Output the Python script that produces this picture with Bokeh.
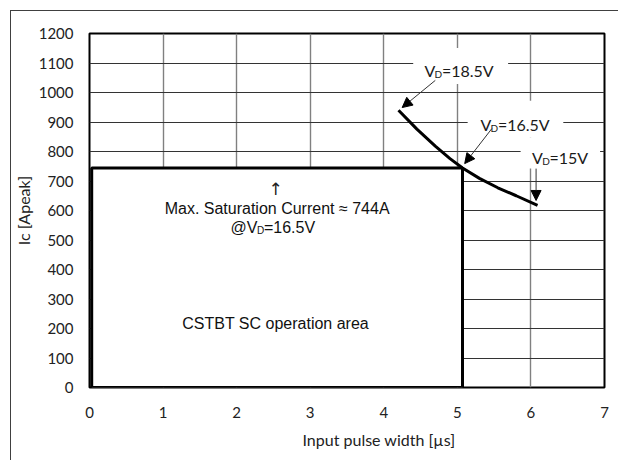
import math
from bokeh.plotting import figure
from bokeh.models import (Label, Arrow, NormalHead, FixedTicker, Title,
                          InlineStyleSheet)
from bokeh.embed import file_html
from bokeh.resources import INLINE

# ---- data ----
pulse_width = [4.20, 4.45, 4.70, 4.90, 5.07, 5.30, 5.55, 5.80, 6.09]
ic_peak = [940, 876, 818, 776, 744, 709, 677, 650, 617]
soa_width = 5.07
sat_current = 744
x_ticks = [0, 1, 2, 3, 4, 5, 6, 7]
y_ticks = [0, 100, 200, 300, 400, 500, 600, 700, 800, 900, 1000, 1100, 1200]
vd_labels = ["18.5V", "16.5V", "15V"]

TICK_FONT = "Lato"
ANN_FONT = "Liberation Sans"

p = figure(frame_width=515, frame_height=354, x_range=(0, 7), y_range=(0, 1200),
           output_backend="svg", toolbar_location=None,
           min_border_left=89, min_border_right=14, min_border_top=33,
           min_border_bottom=73)
p.outline_line_color = "black"
p.outline_line_width = 2
p.background_fill_color = "white"
p.border_fill_color = "white"

# outer thin border (left and top edges visible; the rest runs off the page)
p.stylesheets = [InlineStyleSheet(css="""
:host { position: relative; }
:host::after {
  content: ""; position: absolute; left: 10px; top: 10px; right: 0; bottom: 0;
  border-left: 1px solid #404040; border-top: 1px solid #404040;
  pointer-events: none;
}
""")]

for ax in (p.xaxis, p.yaxis):
    ax.axis_line_color = None
    ax.major_tick_line_color = None
    ax.minor_tick_line_color = None
    ax.major_label_text_font = TICK_FONT
    ax.major_label_text_font_size = "15px"
    ax.major_label_text_color = "#222222"
p.xaxis.ticker = FixedTicker(ticks=x_ticks)
p.yaxis.ticker = FixedTicker(ticks=y_ticks)
p.xaxis.major_label_standoff = 13
p.yaxis.major_tick_out = 0
p.yaxis.minor_tick_out = 0
p.yaxis.major_label_standoff = 16

p.yaxis.axis_label = "Ic [Apeak]"
p.yaxis.axis_label_text_font = TICK_FONT
p.yaxis.axis_label_text_font_size = "16px"
p.yaxis.axis_label_text_font_style = "normal"
p.yaxis.axis_label_text_color = "#222222"
p.yaxis.axis_label_standoff = 3

p.add_layout(Title(text="Input pulse width [µs]", align="left", offset=213,
                   text_font=TICK_FONT, text_font_size="16px",
                   text_font_style="normal", text_color="#222222",
                   standoff=15), "below")

p.xgrid.ticker = FixedTicker(ticks=x_ticks)
p.ygrid.ticker = FixedTicker(ticks=y_ticks)
p.xgrid.grid_line_color = "#808080"
p.xgrid.grid_line_width = 1.4
p.ygrid.grid_line_color = "#333333"
p.ygrid.grid_line_width = 1

# SOA rectangle
p.quad(left=[0.03], right=[soa_width], bottom=[0], top=[sat_current],
       fill_color="white", line_color="black", line_width=3)

# white masks behind the V_D labels
p.quad(left=[4.40, 5.14, 5.86], right=[5.69, 6.44, 6.94],
       top=[1151, 972, 847], bottom=[1029, 847, 742],
       fill_color="white", line_color=None)

# curve
p.line(pulse_width, ic_peak, line_color="black", line_width=3)

# V_D labels
label_pos = [(4.552, 1073), (5.313, 892), (6.015, 780)]
for (lx, ly), txt in zip(label_pos, vd_labels):
    p.add_layout(Label(x=lx, y=ly, text="V", text_font=TICK_FONT,
                       text_font_size="16px", text_baseline="alphabetic",
                       text_color="#1a1a1a"))
    p.add_layout(Label(x=lx, y=ly, x_offset=10.2, y_offset=-3.5, text="D",
                       text_font=TICK_FONT, text_font_size="10px",
                       text_baseline="alphabetic", text_color="#1a1a1a"))
    p.add_layout(Label(x=lx, y=ly, x_offset=17.5, text="=" + txt,
                       text_font=TICK_FONT, text_font_size="16px",
                       text_baseline="alphabetic", text_color="#1a1a1a"))

# arrows to the curve
arrows = [((4.70, 1041), (4.25, 949)),
          ((5.47, 878), (5.10, 759)),
          ((6.07, 742), (6.07, 634))]
for (xs, ys), (xe, ye) in arrows:
    p.add_layout(Arrow(x_start=xs, y_start=ys, x_end=xe, y_end=ye,
                       line_color="#333333", line_width=1,
                       end=NormalHead(size=10, fill_color="black",
                                      line_color="black", line_width=1)))

# annotation text in the SOA
p.add_layout(Label(x=2.53, y=(387 - 188) / 0.2953, text="↑",
                   text_font="DejaVu Sans", text_font_size="17px",
                   text_align="center", text_baseline="alphabetic",
                   text_color="#222222"))
p.add_layout(Label(x=2.55, y=(387 - 208) / 0.2953,
                   text="Max. Saturation Current ≈ 744A", text_font=ANN_FONT,
                   text_font_size="16px", text_align="center",
                   text_baseline="alphabetic", text_color="#111111"))
at_x = (230 - 89) / 73.6
at_y = (387 - 226.7) / 0.2953
p.add_layout(Label(x=at_x, y=at_y, text="@V", text_font=ANN_FONT,
                   text_font_size="16px", text_baseline="alphabetic",
                   text_color="#111111"))
p.add_layout(Label(x=at_x, y=at_y, x_offset=26.5, y_offset=-3.5, text="D",
                   text_font=ANN_FONT, text_font_size="10px",
                   text_baseline="alphabetic", text_color="#111111"))
p.add_layout(Label(x=at_x, y=at_y, x_offset=33.5, text="=16.5V",
                   text_font=ANN_FONT, text_font_size="16px",
                   text_baseline="alphabetic", text_color="#111111"))
p.add_layout(Label(x=2.53, y=(387 - 323.3) / 0.2953,
                   text="CSTBT SC operation area", text_font=ANN_FONT,
                   text_font_size="16px", text_align="center",
                   text_baseline="alphabetic", text_color="#111111"))

open("out.html", "w").write(file_html(p, INLINE))
